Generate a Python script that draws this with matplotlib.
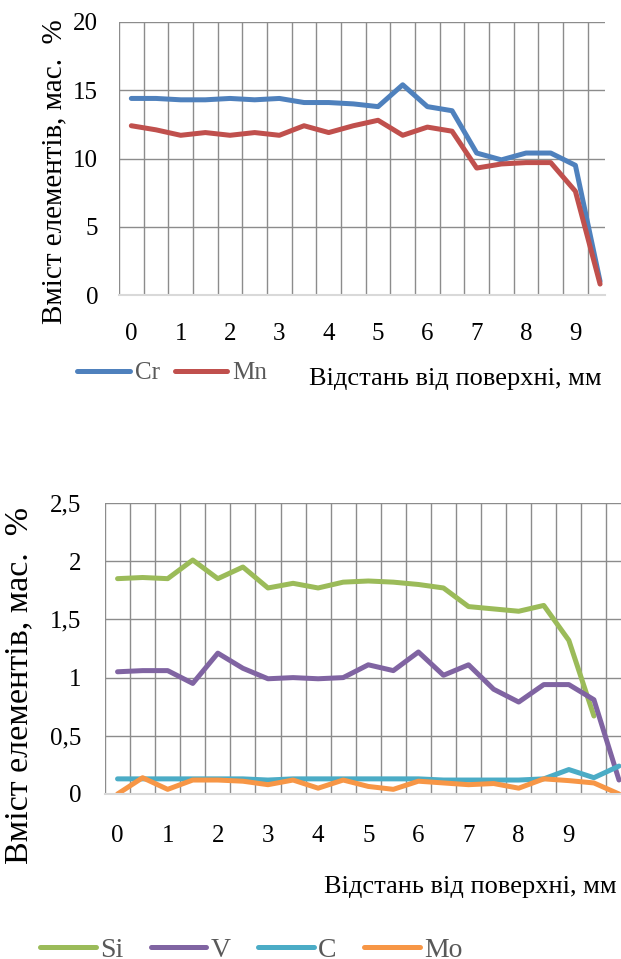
import numpy as np
import matplotlib
matplotlib.use('Agg')
import matplotlib.pyplot as plt

plt.rcParams['font.family'] = ['Liberation Serif', 'DejaVu Serif']

# distance from surface, mm (one point per 0.5 mm)
dist_top = [0, 0.5, 1, 1.5, 2, 2.5, 3, 3.5, 4, 4.5, 5, 5.5, 6, 6.5, 7, 7.5, 8, 8.5, 9, 9.5]
dist_bot = dist_top + [10]

cr = [14.4, 14.4, 14.3, 14.3, 14.4, 14.3, 14.4, 14.1, 14.1, 14.0, 13.8, 15.4,
      13.8, 13.5, 10.4, 9.9, 10.4, 10.4, 9.5, 1.0]
mn = [12.4, 12.1, 11.7, 11.9, 11.7, 11.9, 11.7, 12.4, 11.9, 12.4, 12.8, 11.7,
      12.3, 12.0, 9.3, 9.6, 9.7, 9.7, 7.6, 0.8]

si = [1.85, 1.86, 1.85, 2.01, 1.85, 1.95, 1.77, 1.81, 1.77, 1.82, 1.83, 1.82,
      1.80, 1.77, 1.61, 1.59, 1.57, 1.62, 1.32, 0.67, np.nan]
v = [1.05, 1.06, 1.06, 0.95, 1.21, 1.08, 0.99, 1.00, 0.99, 1.00, 1.11, 1.06,
     1.22, 1.02, 1.11, 0.90, 0.79, 0.94, 0.94, 0.81, 0.12]
c = [0.13, 0.13, 0.13, 0.13, 0.13, 0.13, 0.12, 0.13, 0.13, 0.13, 0.13, 0.13,
     0.13, 0.12, 0.12, 0.12, 0.12, 0.13, 0.21, 0.14, 0.24]
mo = [0.0, 0.14, 0.04, 0.12, 0.12, 0.11, 0.08, 0.12, 0.05, 0.12, 0.065, 0.04,
      0.11, 0.095, 0.08, 0.09, 0.05, 0.13, 0.115, 0.095, 0.0]

xticks = [0, 1, 2, 3, 4, 5, 6, 7, 8, 9]
yticks_top = [0, 5, 10, 15, 20]
yticks_bot = [0, 0.5, 1, 1.5, 2, 2.5]
yticklabels_bot = ['0', '0,5', '1', '1,5', '2', '2,5']

ylab = 'Вміст елементів, мас.  %'
xlab = 'Відстань від поверхні, мм'

W, H = 621, 959
fig = plt.figure(figsize=(W / 100, H / 100), dpi=100)

def px_axes(l, t, r, b):
    return fig.add_axes([l / W, 1 - b / H, (r - l) / W, (b - t) / H])

def style(ax, xmax, yticks, ylim, xpad, ypad):
    ax.set_xlim(-0.25, xmax)
    ax.set_ylim(*ylim)
    ax.set_xticks(xticks)
    ax.set_xticks(np.arange(-0.25, xmax, 0.5), minor=True)
    ax.set_yticks(yticks)
    ax.grid(which='minor', axis='x', color='#8c8c8c', lw=1.0)
    ax.grid(which='major', axis='y', color='#8c8c8c', lw=1.0)
    ax.grid(which='major', axis='x', visible=False)
    ax.tick_params(which='both', length=0, labelsize=18)
    ax.tick_params(axis='x', pad=xpad)
    ax.tick_params(axis='y', pad=ypad)
    for s in ['top', 'right', 'left']:
        ax.spines[s].set_visible(False)
    ax.spines['bottom'].set_color('#d9d9d9')
    ax.spines['bottom'].set_linewidth(1.5)
    ax.set_axisbelow(True)

lkw = dict(lw=3.6, solid_capstyle='round', solid_joinstyle='round')

# top chart: Cr, Mn
ax1 = px_axes(119, 22, 605, 295)
style(ax1, 9.6, yticks_top, (0, 20), 20, 15)
l1, = ax1.plot(dist_top, cr, color='#4F81BD', label='Cr', **lkw)
l2, = ax1.plot(dist_top, mn, color='#C0504D', label='Mn', **lkw)
fig.text(54 / W, 1 - 172 / H, ylab, rotation=90, ha='center', va='center', fontsize=21)
fig.text(602 / W, 1 - 379 / H, xlab, ha='right', va='center', fontsize=19)
fig.legend(handles=[l1, l2], loc='center left', bbox_to_anchor=(77 / W, 1 - 373 / H),
           ncol=2, frameon=False, fontsize=18, labelcolor='#595959', borderpad=0,
           borderaxespad=0, handlelength=2.1, handletextpad=0.2, columnspacing=0.6)

# bottom chart: Si, V, C, Mo
ax2 = px_axes(105, 503, 621, 794)
style(ax2, 10.04, yticks_bot, (0, 2.5), 22, 17)
ax2.set_yticklabels(yticklabels_bot)
h = []
h += ax2.plot(dist_bot, si, color='#9BBB59', label='Si', **lkw)
h += ax2.plot(dist_bot, v, color='#8064A2', label='V', **lkw)
h += ax2.plot(dist_bot, c, color='#4BACC6', label='C', **lkw)
h += ax2.plot(dist_bot, mo, color='#F79646', label='Mo', **lkw)
fig.text(19 / W, 1 - 685 / H, ylab, rotation=90, ha='center', va='center', fontsize=24.5)
fig.text(617 / W, 1 - 887 / H, xlab, ha='right', va='center', fontsize=19)
fig.legend(handles=h, loc='center left', bbox_to_anchor=(40 / W, 1 - 950 / H),
           ncol=4, frameon=False, fontsize=20, labelcolor='#595959', borderpad=0,
           borderaxespad=0, handlelength=2.0, handletextpad=0.15, columnspacing=1.0)

fig.savefig('out.png', dpi=100)
